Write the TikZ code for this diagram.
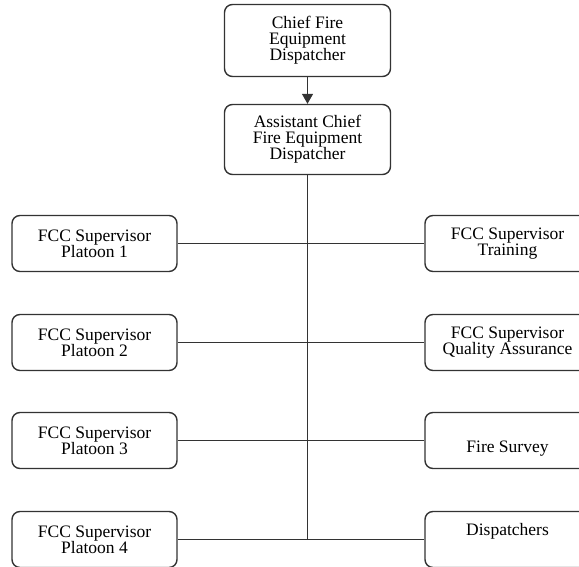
\documentclass[tikz,border=0pt]{standalone}
\usepackage{fontspec}
\setmainfont{Liberation Serif}
\usetikzlibrary{arrows.meta}

\begin{document}
\begin{tikzpicture}[x=1pt, y=-1pt,
    box/.style={draw=black!80, rounded corners=8pt, line width=1.4pt, align=center,
        minimum width=165pt, minimum height=56pt, font=\fontsize{17.5}{16}\selectfont},
    link/.style={draw=black!80, line width=1.4pt}]
    % Page frame
    \useasboundingbox (0,0) rectangle (579,567);
    % Top of the chart
    \node[box, minimum width=166pt, minimum height=72pt] (chief) at (307.5,40.5) {Chief Fire\\Equipment\\Dispatcher};
    \node[box, minimum width=166pt, minimum height=70pt] (asst) at (307.5,139.5) {Assistant Chief\\Fire Equipment\\Dispatcher};
    \draw[link, -{Triangle[length=10pt, width=11pt]}] (chief) -- (asst);
    % Supervisors left and right
    \foreach \i/\y/\lt/\rt in {1/243.5/{FCC Supervisor\\Platoon 1}/{FCC Supervisor\\Training},
                               2/342.5/{FCC Supervisor\\Platoon 2}/{FCC Supervisor\\Quality Assurance},
                               3/440.5/{FCC Supervisor\\Platoon 3}/{\strut\\Fire Survey},
                               4/539.5/{FCC Supervisor\\Platoon 4}/{Dispatchers\\\strut}}
    {
        \node[box] (L\i) at (94.5,\y) {\lt};
        \node[box] (R\i) at (507.5,\y) {\rt};
        \draw[link] (L\i) -- (R\i);
    }
    % Trunk line
    \draw[link] (asst) -- (asst.south |- L4.east);
\end{tikzpicture}
\end{document}
